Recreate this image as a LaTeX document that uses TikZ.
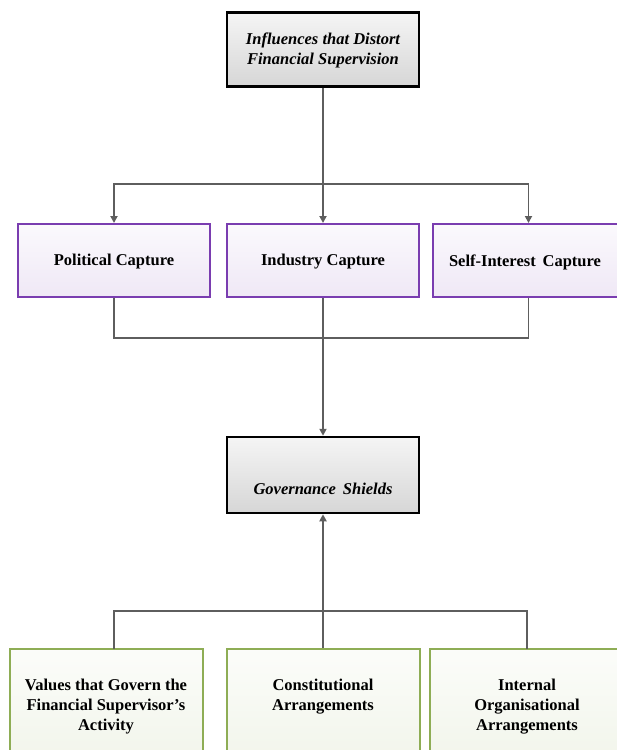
\documentclass[tikz,border=0pt]{standalone}
\usepackage{fontspec}
\setmainfont{Liberation Serif}
\usetikzlibrary{arrows.meta}
\definecolor{purp}{HTML}{7A3DB0}
\definecolor{olive}{HTML}{8EAD55}
\definecolor{conn}{HTML}{5E5E5E}
\tikzset{
  topbox/.style={draw=black, line width=2.5pt, top color=white!96!black, bottom color=white!84!black, minimum width=192pt, minimum height=74pt, inner sep=0pt, align=center},
  capbox/.style={draw=purp, line width=2pt, top color=white!97!purp, bottom color=white!88!purp, minimum width=192pt, minimum height=73pt, inner sep=0pt, align=center},
  grnbox/.style={draw=olive, line width=2pt, top color=white!97!olive, bottom color=white!88!olive, minimum width=193pt, minimum height=112pt, inner sep=0pt},
  lbl/.style={font=\fontsize{16.5}{20}\selectfont\bfseries, align=center, inner sep=0pt},
  conn/.style={draw=conn, line width=1.8pt},
  arr/.style={conn, -{Triangle[width=7pt,length=7pt]}}
}
\begin{document}
\begin{tikzpicture}[x=1pt,y=-1pt]
\useasboundingbox (0,0) rectangle (617,750);
\clip (0,0) rectangle (617,750);
% top box
\node[topbox] (top) at (323,49.5) {};
\node[lbl, font=\fontsize{16.5}{20}\selectfont\bfseries\itshape] (toptxt) at (323,50.5) {Influences that Distort\\Financial Supervision};
% capture boxes
\node[capbox] (pol) at (114,260.5) {};
\node[capbox] (ind) at (323,260.5) {};
\node[capbox] (sel) at (528.5,260.5) {};
\node[lbl] (poltxt) at (114,262) {Political Capture};
\node[lbl] (indtxt) at (323,262) {Industry Capture};
\node[lbl] (seltxt) at (525,262) {Self-Interest\, Capture};
% governance
\node[topbox, minimum height=76pt] (gov) at (323,475) {};
\node[lbl, font=\fontsize{16.5}{20}\selectfont\bfseries\itshape] (govtxt) at (323,489) {Governance\, Shields};
% bottom boxes
\node[grnbox] (val) at (106,705) {};
\node[grnbox] (con) at (323,705) {};
\node[grnbox] (int) at (526,705) {};
\node[lbl, anchor=north] (valtxt) at (106,679) {Values that Govern the\\Financial Supervisor's\\Activity};
\node[lbl, anchor=north] (contxt) at (323,679) {Constitutional\\Arrangements};
\node[lbl, anchor=north] (inttxt) at (527,679) {Internal\\Organisational\\Arrangements};
% junction coordinates
\coordinate (j1) at (323,184);
\coordinate (j2) at (323,338);
\coordinate (j3) at (323,611);
\coordinate (bl) at (114,649);
\coordinate (br) at (527,649);
% connectors top -> captures
\draw[conn] (top.south) -- (j1);
\draw[arr] (j1) -- (ind.north);
\draw[arr] (j1) -| (pol.north);
\draw[arr] (j1) -| (sel.north);
% captures -> governance
\draw[conn] (pol.south) |- (j2);
\draw[conn] (sel.south) |- (j2);
\draw[arr] (ind.south) -- (gov.north);
% bottom -> governance
\draw[conn] (bl) |- (j3);
\draw[conn] (br) |- (j3);
\draw[conn] (con.north) -- (j3);
\draw[arr] (j3) -- (gov.south);
\end{tikzpicture}
\end{document}
